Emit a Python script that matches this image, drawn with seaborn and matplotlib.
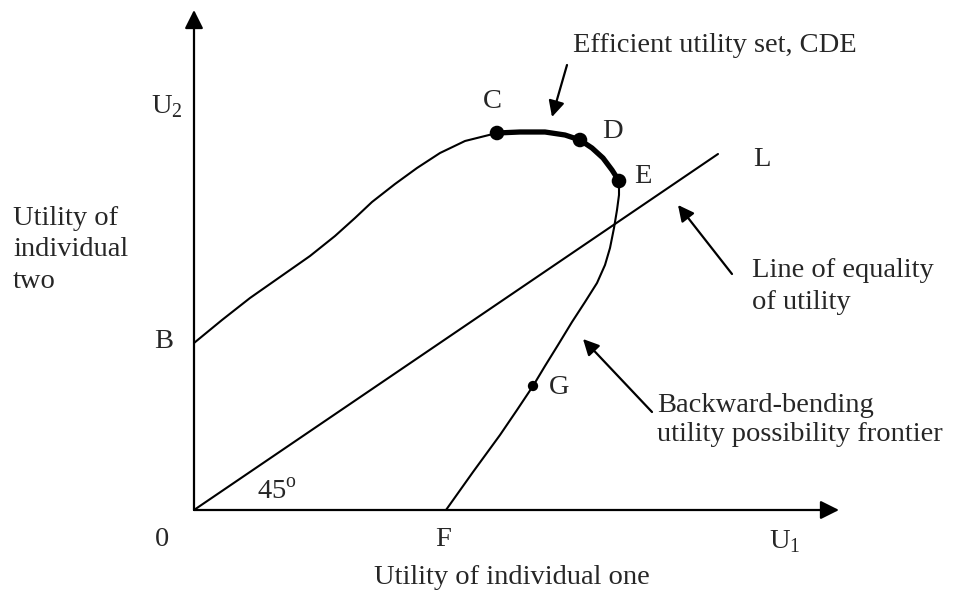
import matplotlib
matplotlib.use("Agg")
import matplotlib.pyplot as plt
import seaborn as sns

# utility possibility frontier (thin curve), from B round to F
frontier_u1 = [0.0, 0.56, 1.12, 1.72, 2.32, 2.82, 3.22, 3.56, 4.02, 4.46, 4.92, 5.42, 6.06,
               6.52, 7.02, 7.42, 7.72, 7.96, 8.18, 8.36, 8.50,
               8.50, 8.46, 8.40, 8.32, 8.22, 8.06, 7.82, 7.56, 7.28, 7.02, 6.78, 6.46, 6.12,
               5.58, 5.04]
frontier_u2 = [3.34, 3.80, 4.24, 4.66, 5.08, 5.48, 5.84, 6.16, 6.52, 6.84, 7.14, 7.38, 7.54,
               7.56, 7.56, 7.50, 7.40, 7.24, 7.04, 6.80, 6.58,
               6.30, 6.00, 5.64, 5.24, 4.90, 4.54, 4.16, 3.76, 3.30, 2.88, 2.48, 2.00, 1.50,
               0.76, 0.0]

# efficient utility set C-D-E (thick)
efficient_u1 = [6.06, 6.52, 7.02, 7.42, 7.72, 7.96, 8.18, 8.36, 8.50]
efficient_u2 = [7.54, 7.56, 7.56, 7.50, 7.40, 7.24, 7.04, 6.80, 6.58]

# line of equality 0-L
equality_u1 = [0.0, 10.48]
equality_u2 = [0.0, 7.12]

# labelled points
big_u1 = [6.06, 7.72, 8.50]   # C, D, E
big_u2 = [7.54, 7.40, 6.58]
small_u1 = [6.78]             # G
small_u2 = [2.48]

x_axis_end = 12.9
y_axis_end = 10.0

sns.set_theme(style="white")
plt.rcParams["font.family"] = ["Liberation Serif", "DejaVu Serif"]
plt.rcParams["mathtext.fontset"] = "custom"
plt.rcParams["mathtext.rm"] = "Liberation Serif"

fig = plt.figure(figsize=(9.55, 5.95), dpi=100)
ax = fig.add_axes([0, 0, 1, 1])
ax.set_xlim(-3.88, 15.22)
ax.set_ylim(-1.7, 10.2)
ax.axis("off")

fs = 20.5
arrow_kw = dict(arrowstyle="-|>", color="black", lw=1.6, shrinkA=0, shrinkB=0)

# axes with arrow heads
ax.annotate("", xy=(x_axis_end, 0), xytext=(0, 0),
            arrowprops=dict(arrow_kw, mutation_scale=28))
ax.annotate("", xy=(0, y_axis_end), xytext=(0, 0),
            arrowprops=dict(arrow_kw, mutation_scale=28))

line_kw = dict(sort=False, estimator=None, color="black", ax=ax)
sns.lineplot(x=frontier_u1, y=frontier_u2, lw=1.5, **line_kw)
sns.lineplot(x=efficient_u1, y=efficient_u2, lw=3.8, **line_kw)
sns.lineplot(x=equality_u1, y=equality_u2, lw=1.5, **line_kw)
sns.scatterplot(x=big_u1, y=big_u2, color="black", s=110, edgecolor="none", ax=ax, zorder=5)
sns.scatterplot(x=small_u1, y=small_u2, color="black", s=55, edgecolor="none", ax=ax, zorder=5)

# point labels
ax.text(5.96, 8.16, "C", fontsize=fs, ha="center", va="center")
ax.text(8.36, 7.56, "D", fontsize=fs, ha="center", va="center")
ax.text(8.98, 6.66, "E", fontsize=fs, ha="center", va="center")
ax.text(7.30, 2.46, "G", fontsize=fs, ha="center", va="center")
ax.text(11.36, 7.0, "L", fontsize=fs, ha="center", va="center")
ax.text(-0.6, 3.36, "B", fontsize=fs, ha="center", va="center")
ax.text(-0.64, -0.6, "0", fontsize=fs, ha="center", va="center")
ax.text(4.98, -0.6, "F", fontsize=fs, ha="center", va="center")
ax.text(11.82, -0.64, r"U$_{1}$", fontsize=fs, ha="center", va="center")
ax.text(-0.54, 8.06, r"U$_{2}$", fontsize=fs, ha="center", va="center")
ax.text(1.26, 0.36, r"45$^{\rm o}$", fontsize=fs, ha="left", va="center")

# axis titles
ax.text(6.36, -1.34, "Utility of individual one", fontsize=fs, ha="center", va="center")
ax.text(-3.62, 5.2, "Utility of\nindividual\ntwo", fontsize=fs, ha="left", va="center",
        linespacing=1.36)

# annotations
ax.text(7.58, 9.28, "Efficient utility set, CDE", fontsize=fs, ha="left", va="center")
ax.annotate("", xy=(7.16, 7.86), xytext=(7.46, 8.9),
            arrowprops=dict(arrow_kw, mutation_scale=24))
ax.text(11.16, 4.47, "Line of equality\nof utility", fontsize=fs, ha="left", va="center",
        linespacing=1.33)
ax.annotate("", xy=(9.68, 6.10), xytext=(10.76, 4.72),
            arrowprops=dict(arrow_kw, mutation_scale=24))
ax.text(9.26, 1.8, "Backward-bending\nutility possibility frontier", fontsize=fs,
        ha="left", va="center", linespacing=1.22)
ax.annotate("", xy=(7.78, 3.42), xytext=(9.16, 1.96),
            arrowprops=dict(arrow_kw, mutation_scale=24))

fig.savefig("out.png", dpi=100)
plt.close(fig)
